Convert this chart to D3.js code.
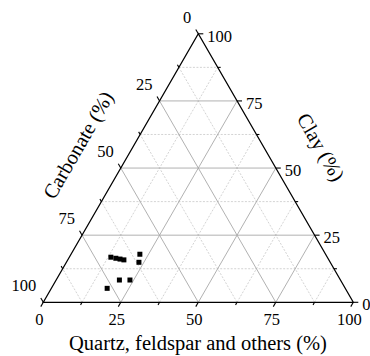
<!DOCTYPE html>
<html>
<head>
<meta charset="utf-8">
<script src="https://cdn.jsdelivr.net/npm/d3@7"></script>
<style>
    html, body { margin: 0; padding: 0; background: #fff; }
</style>
</head>
<body>
<div id="chart"></div>
<script>
// ----------------- data (%) ------------------------------
const carbonate = [69.8, 68.4, 67.2, 66.1, 59.9, 61.7, 71.3, 67.9, 76.8];
const clay      = [16.8, 16.4, 16.1, 15.8, 17.9, 14.9, 8.3, 8.3, 5.2];
const quartz    = [13.4, 15.2, 16.7, 18.1, 22.2, 23.4, 20.4, 23.8, 18.0];

const majorTicks = [0, 25, 50, 75, 100];
const minorTicks = [12.5, 37.5, 62.5, 87.5];
const tickLabels = ["0", "25", "50", "75", "100"];

const titleBottom = "Quartz, feldspar and others (%)";
const titleLeft = "Carbonate (%)";
const titleRight = "Clay (%)";

// ----------------- canvas ------------------------------
const width = 370;
const height = 356;
const H = Math.sqrt(3) / 2;

const svg = d3.select("#chart").append("svg")
    .attr("width", width)
    .attr("height", height)
    .attr("font-family", "'Liberation Serif', 'Times New Roman', Times, serif");

// 三角形座標 -> 畫面座標
const x = d3.scaleLinear().domain([0, 1]).range([43.3, 353.3]);
const y = d3.scaleLinear().domain([0, H]).range([302.3, 33.8]);

// q = quartz, c = clay (percent) ; carbonate = rest
function pos(q, c) {
    q = q / 100; c = c / 100;
    return [x(q + c / 2), y(c * H)];
}

// ----------------- grid ------------------------------
const grid = svg.append("g");
function gridLines(values, major) {
    values.forEach(v => {
        if (v === 0 || v === 100) return;
        const segs = [
            [pos(0, v), pos(100 - v, v)],        // clay 常數
            [pos(v, 0), pos(v, 100 - v)],        // quartz 常數
            [pos(100 - v, 0), pos(0, 100 - v)]   // carbonate 常數
        ];
        segs.forEach(s => {
            grid.append("line")
                .attr("x1", s[0][0]).attr("y1", s[0][1])
                .attr("x2", s[1][0]).attr("y2", s[1][1])
                .attr("stroke", major ? "#a8a8a8" : "#c8c8c8")
                .attr("stroke-width", major ? 0.9 : 0.8)
                .attr("stroke-dasharray", major ? null : "2,1.5");
        });
    });
}
gridLines(minorTicks, false);
gridLines(majorTicks, true);

// ----------------- frame ------------------------------
const corners = [pos(0, 0), pos(100, 0), pos(0, 100)];
svg.append("path")
    .attr("d", d3.line()(corners) + "Z")
    .attr("fill", "none")
    .attr("stroke", "#000")
    .attr("stroke-width", 1.3);

// ----------------- ticks ------------------------------
const ticks = svg.append("g").attr("stroke", "#000").attr("stroke-width", 1.1);
function drawTick(p, dx, dy, len) {
    ticks.append("line")
        .attr("x1", p[0]).attr("y1", p[1])
        .attr("x2", p[0] + dx * len).attr("y2", p[1] + dy * len);
}
majorTicks.concat(minorTicks).forEach(v => {
    const len = majorTicks.includes(v) ? 5 : 3;
    drawTick(pos(v, 0), -0.5, H, len);          // bottom: quartz
    drawTick(pos(100 - v, v), 1, 0, len);       // right: clay
    drawTick(pos(0, 100 - v), -0.5, -H, len);   // left: carbonate
});

// ----------------- tick labels ------------------------------
const lbl = svg.append("g").attr("font-size", 16.5);
majorTicks.forEach((v, i) => {
    const pb = pos(v, 0);
    lbl.append("text")
        .attr("x", pb[0] - 4).attr("y", 325)
        .attr("text-anchor", "middle")
        .text(tickLabels[i]);

    const pr = pos(100 - v, v);
    lbl.append("text")
        .attr("x", pr[0] + 9).attr("y", pr[1] + 8)
        .attr("text-anchor", "start")
        .text(tickLabels[i]);

    const pl = pos(0, 100 - v);
    lbl.append("text")
        .attr("x", pl[0] - 7).attr("y", pl[1] - 11)
        .attr("text-anchor", "end")
        .text(tickLabels[i]);
});

// ----------------- axis titles ------------------------------
svg.append("text")
    .attr("x", 198).attr("y", 350)
    .attr("text-anchor", "middle")
    .attr("font-size", 20.5)
    .text(titleBottom);

svg.append("text")
    .attr("transform", "translate(78,145) rotate(-60)")
    .attr("text-anchor", "middle")
    .attr("dy", "0.35em")
    .attr("font-size", 20.5)
    .text(titleLeft);

svg.append("text")
    .attr("transform", "translate(321,147) rotate(60)")
    .attr("text-anchor", "middle")
    .attr("dy", "0.35em")
    .attr("font-size", 20.5)
    .text(titleRight);

// ----------------- points ------------------------------
const s = 5;
svg.append("g").selectAll("rect")
    .data(carbonate.map((d, i) => ({ b: d, c: clay[i], q: quartz[i] })))
    .join("rect")
    .attr("x", d => pos(d.q, d.c)[0] - s / 2)
    .attr("y", d => pos(d.q, d.c)[1] - s / 2)
    .attr("width", s)
    .attr("height", s)
    .attr("fill", "#000");
</script>
</body>
</html>
